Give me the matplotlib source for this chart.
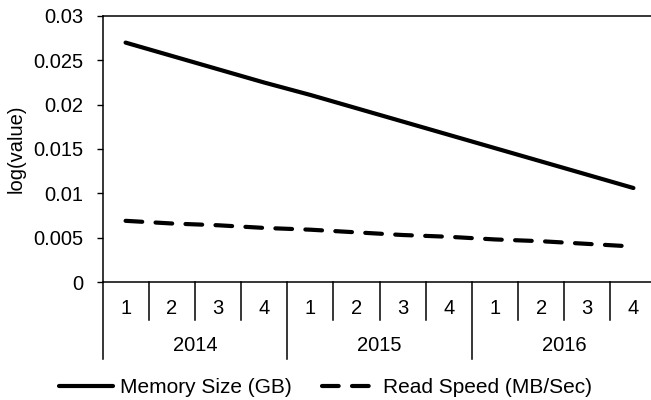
import matplotlib
matplotlib.use("Agg")
import matplotlib.pyplot as plt

plt.rcParams['font.family'] = ['Liberation Sans', 'DejaVu Sans']

years = ['2014', '2015', '2016']
quarters = ['1', '2', '3', '4']
memory_size = [0.0270, 0.0255, 0.0240, 0.0225, 0.0211, 0.0196,
               0.0181, 0.0166, 0.0151, 0.0136, 0.0121, 0.0106]
read_speed = [0.0069, 0.0066, 0.0064, 0.0061, 0.0059, 0.0056,
              0.0053, 0.0051, 0.0048, 0.0046, 0.0043, 0.0040]

fs = 14.5

fig = plt.figure(figsize=(6.51, 4.0), dpi=100)
# axes spans past the right edge, like the source image
ax = fig.add_axes([102.5 / 651, 1 - 282 / 400, 554 / 651, 266 / 400])

x = list(range(len(memory_size)))
ax.plot(x, memory_size, color='black', lw=3, solid_capstyle='round',
        label='Memory Size (GB)')
ax.plot(x, read_speed, color='black', lw=3, dashes=(4, 3.2),
        dash_capstyle='round', label='Read Speed (MB/Sec)')

ax.set_xlim(-0.5, len(x) - 0.5)
ax.set_ylim(0, 0.03)
ax.set_yticks([0, 0.005, 0.01, 0.015, 0.02, 0.025, 0.03])
ax.set_yticklabels(['0', '0.005', '0.01', '0.015', '0.02', '0.025', '0.03'])
ax.tick_params(axis='y', labelsize=fs, length=4, width=1, pad=10)
ax.set_ylabel('log(value)', fontsize=fs, labelpad=5)

ax.spines['right'].set_visible(False)
for side in ['left', 'top', 'bottom']:
    ax.spines[side].set_linewidth(1.1)

# two-level category axis
ax.set_xticks([])
tr = ax.get_xaxis_transform()
for i in range(len(x) + 1):
    b = i - 0.5
    low = -0.288 if i % 4 == 0 else -0.143
    ax.plot([b, b], [0, low], color='black', lw=1.1, transform=tr, clip_on=False)
for i in range(len(x)):
    ax.text(i, -0.098, quarters[i % 4], transform=tr, ha='center', va='center',
            fontsize=fs)
for j, yr in enumerate(years):
    ax.text(j * 4 + 1.5, -0.24, yr, transform=tr, ha='center', va='center',
            fontsize=fs)

fig.legend(loc='lower center', bbox_to_anchor=(0.5, -0.04), ncol=2,
           frameon=False, fontsize=15, handlelength=2.6, columnspacing=1.5,
           handletextpad=0.3)

fig.savefig('out.png', dpi=100)
